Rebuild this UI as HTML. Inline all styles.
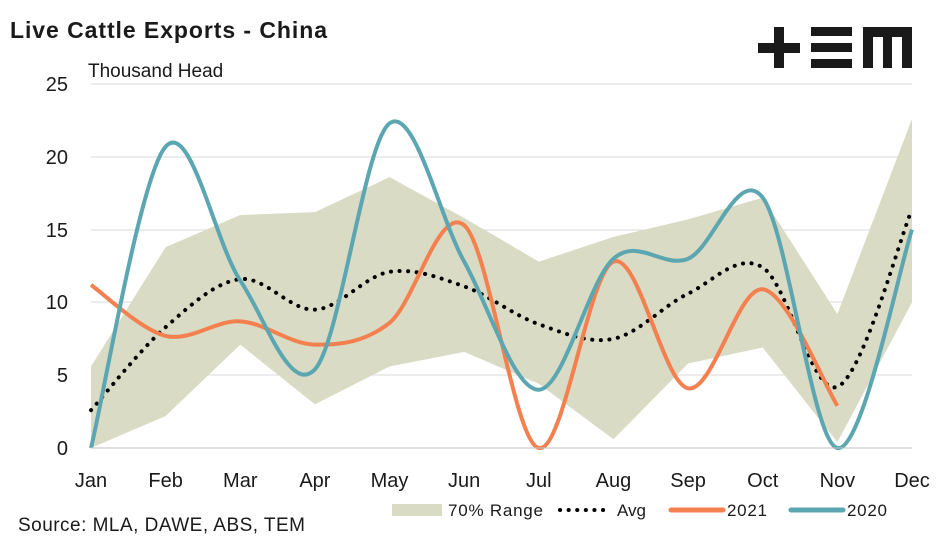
<!DOCTYPE html>
<html><head><meta charset="utf-8"><style>
body{margin:0;background:#fff;width:947px;height:543px;overflow:hidden;font-family:"Liberation Sans",sans-serif}
</style></head><body>
<svg id="s" width="947" height="543" xmlns="http://www.w3.org/2000/svg" font-family="Liberation Sans, sans-serif">
<text x="10" y="38" font-size="23" font-weight="bold" fill="#1a1a1a" textLength="317">Live Cattle Exports - China</text>
<text x="88" y="77" font-size="19" fill="#1a1a1a">Thousand Head</text>
<g fill="#1a1a1a">
<rect x="758" y="43" width="42" height="10"/><rect x="774" y="27" width="10" height="41"/>
<rect x="811" y="27" width="41" height="9"/><rect x="811" y="43" width="41" height="9"/><rect x="811" y="59" width="41" height="9"/>
<path d="M863 27H912V68H902V37H892V68H883V37H873V68H863Z"/>
</g>
<g stroke="#d9d9d9" stroke-width="1">
<line x1="91" x2="912" y1="84" y2="84"/><line x1="91" x2="912" y1="157" y2="157"/><line x1="91" x2="912" y1="230" y2="230"/><line x1="91" x2="912" y1="302" y2="302"/><line x1="91" x2="912" y1="375" y2="375"/>
</g>
<g font-size="20" fill="#1a1a1a" text-anchor="end">
<text x="68" y="91">25</text><text x="68" y="164">20</text><text x="68" y="237">15</text><text x="68" y="309">10</text><text x="68" y="382">5</text><text x="68" y="455">0</text>
</g>
<g id="g"></g>
<line x1="91" x2="912" y1="448" y2="448" stroke="#bfbfbf"/>
<g font-size="20" fill="#1a1a1a" text-anchor="middle" id="xl"></g>
<text x="18" y="531" font-size="19" fill="#1a1a1a" textLength="287">Source: MLA, DAWE, ABS, TEM</text>
<rect x="392" y="504" width="50" height="12" fill="#d9dbc4"/>
<text x="448" y="516" font-size="17" fill="#1a1a1a" textLength="95">70% Range</text>
<line x1="560" x2="610" y1="510" y2="510" stroke="#000" stroke-width="4" stroke-dasharray="0.1 8.5" stroke-linecap="round"/>
<text x="617" y="516" font-size="17" fill="#1a1a1a">Avg</text>
<line x1="671" x2="723" y1="510" y2="510" stroke="#f4804f" stroke-width="5" stroke-linecap="round"/>
<text x="727" y="516" font-size="17" fill="#1a1a1a" textLength="40">2021</text>
<line x1="791" x2="843" y1="510" y2="510" stroke="#5ca6b2" stroke-width="5" stroke-linecap="round"/>
<text x="847" y="516" font-size="17" fill="#1a1a1a" textLength="40">2020</text>
</svg>
<script>
const X=i=>91+i*74.636, Y=v=>448-14.56*v;
const up=[5.6,13.8,16,16.2,18.6,15.8,12.8,14.5,15.7,17.2,9.2,22.6];
const lo=[0,2.2,7.1,3,5.6,6.6,4.4,0.6,5.8,6.9,0.4,10];
const avg=[2.6,8.3,11.6,9.5,12.1,11.1,8.5,7.5,10.6,12.4,4.2,16.4];
const a21=[11.2,7.7,8.7,7.1,8.6,15.3,0,12.8,4.1,10.9,2.9];
const a20=[0,20.7,11.5,5.4,22.3,12.8,4.0,13.0,13.0,17.2,0,15.0];
function smooth(d){const p=d.map((v,i)=>[X(i),Y(v)]);let s=`M${p[0]}`;
for(let i=0;i<p.length-1;i++){const p0=p[i-1]||p[i],p1=p[i],p2=p[i+1],p3=p[i+2]||p2;const t=1/6;
s+=`C${p1[0]+(p2[0]-p0[0])*t},${p1[1]+(p2[1]-p0[1])*t} ${p2[0]-(p3[0]-p1[0])*t},${p2[1]-(p3[1]-p1[1])*t} ${p2[0]},${p2[1]}`;}return s;}
let poly=up.map((v,i)=>X(i)+','+Y(v)).concat(lo.map((v,i)=>X(i)+','+Y(v)).reverse()).join(' ');
let h=`<polygon points="${poly}" fill="#d9dbc4"/>`;
h+=`<path d="${smooth(avg)}" fill="none" stroke="#000" stroke-width="4" stroke-dasharray="0.1 8.5" stroke-linecap="round"/>`;
h+=`<path d="${smooth(a21)}" fill="none" stroke="#f4804f" stroke-width="4"/>`;
h+=`<path d="${smooth(a20)}" fill="none" stroke="#5ca6b2" stroke-width="4"/>`;
document.getElementById('g').innerHTML=h;
const m=['Jan','Feb','Mar','Apr','May','Jun','Jul','Aug','Sep','Oct','Nov','Dec'];
document.getElementById('xl').innerHTML=m.map((t,i)=>`<text x="${X(i)}" y="487">${t}</text>`).join('');
</script>
</body></html>
